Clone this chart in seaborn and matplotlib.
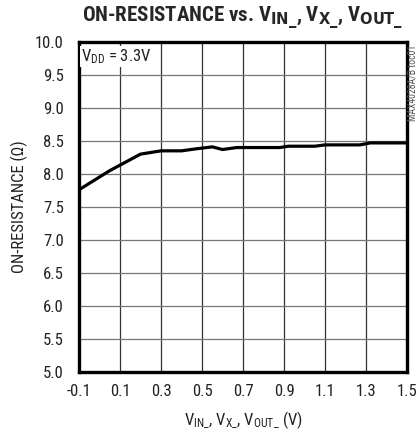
import numpy as np
import pandas as pd
import seaborn as sns
import matplotlib
matplotlib.use("Agg")
import matplotlib.pyplot as plt

# values
v_in = [-0.1, 0.05, 0.2, 0.3, 0.4, 0.47, 0.55, 0.6, 0.67, 0.8, 0.88, 0.92, 1.05, 1.1, 1.27, 1.32, 1.5]
r_on = [7.76, 8.05, 8.30, 8.35, 8.35, 8.38, 8.41, 8.37, 8.40, 8.40, 8.40, 8.42, 8.42, 8.44, 8.44, 8.47, 8.47]
x_ticks = [-0.1, 0.1, 0.3, 0.5, 0.7, 0.9, 1.1, 1.3, 1.5]
y_ticks = [5.0, 5.5, 6.0, 6.5, 7.0, 7.5, 8.0, 8.5, 9.0, 9.5, 10.0]

df = pd.DataFrame({"v": v_in, "r": r_on})

sns.set_style("white")
plt.rcParams["font.family"] = ["Roboto Condensed", "DejaVu Sans"]
plt.rcParams["mathtext.default"] = "regular"

fig = plt.figure(figsize=(4.18, 4.37), dpi=100)
ax = fig.add_axes([0.189, 0.149, 0.785, 0.755])

sns.lineplot(data=df, x="v", y="r", ax=ax, color="black", linewidth=2.3)

ax.set_xlim(-0.1, 1.5)
ax.set_ylim(5.0, 10.0)
ax.set_xticks(x_ticks)
ax.set_yticks(y_ticks)
ax.set_xticklabels([f"{t:.1f}" for t in x_ticks])
ax.set_yticklabels([f"{t:.1f}" for t in y_ticks])
ax.tick_params(axis="both", length=0, labelsize=12, colors="#222222")
ax.tick_params(axis="y", pad=11)
ax.tick_params(axis="x", pad=9)

# grid: vertical darker, horizontal grey
for t in x_ticks[1:-1]:
    ax.axvline(t, color="#333333", linewidth=0.9, zorder=0)
for t in y_ticks[1:-1]:
    ax.axhline(t, color="#777777", linewidth=0.9, zorder=0)

for s in ax.spines.values():
    s.set_visible(True)
    s.set_color("black")
    s.set_linewidth(2.4)

ax.set_xlabel(r"V$_{IN\_}$, V$_{X\_}$, V$_{OUT\_}$ (V)", fontsize=12, color="#222222", labelpad=7)
ax.set_ylabel("ON-RESISTANCE (Ω)", fontsize=12, color="#222222", labelpad=5)

ax.text(-0.088, 9.78, r"V$_{DD}$ = 3.3V", fontsize=12, color="#222222",
        va="center", ha="left",
        bbox=dict(facecolor="white", edgecolor="none", pad=1.0), zorder=3)

fig.text(0.987, 0.81, "MAX4028A/B toc01", rotation=90, fontsize=7,
         color="#555555", ha="center", va="center")

fig.suptitle(r"ON-RESISTANCE vs. V$_{\mathbf{IN\_}}$, V$_{\mathbf{X\_}}$, V$_{\mathbf{OUT\_}}$",
             x=0.581, y=0.99, fontsize=15, fontweight="bold")

fig.savefig("out.png", dpi=100)
